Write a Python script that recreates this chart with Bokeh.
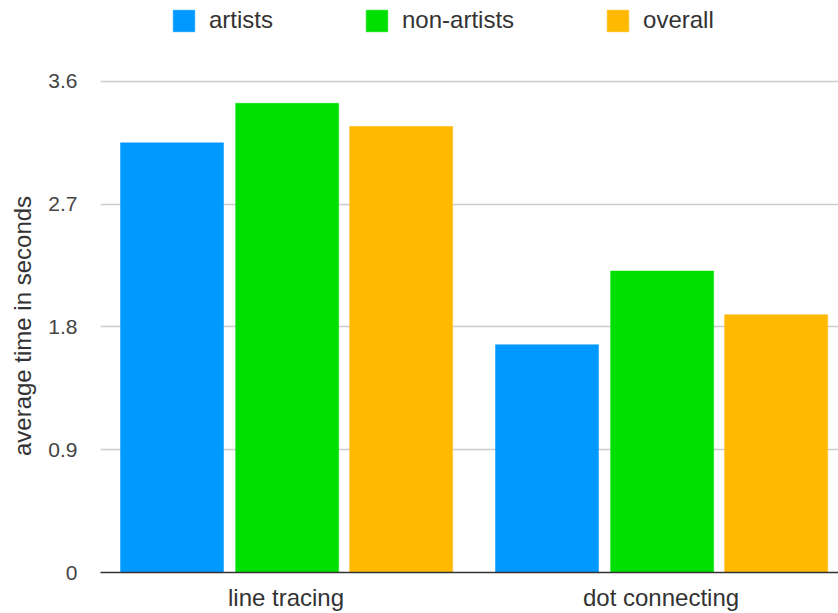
import numpy as np
from bokeh.plotting import figure
from bokeh.layouts import column
from bokeh.models import ColumnDataSource, FixedTicker, Range1d, Legend, LegendItem
from bokeh.transform import dodge
from bokeh.embed import file_html
from bokeh.resources import INLINE

categories = ["line tracing", "dot connecting"]
series = ["artists", "non-artists", "overall"]
artists = [3.15, 1.67]
non_artists = [3.44, 2.21]
overall = [3.27, 1.89]
y_ticks = [0, 0.9, 1.8, 2.7, 3.6]
colors = ["#0099FF", "#00E000", "#FFB900"]

FONT = "Liberation Sans"

xpos = np.arange(len(categories)) + 0.5
source = ColumnDataSource(dict(x=xpos, artists=artists, non_artists=non_artists, overall=overall))
cols = ["artists", "non_artists", "overall"]

# ---- legend strip (the bars drawn here lie outside its visible range; only the legend shows) ----
lg = figure(width=838, height=60, output_backend="svg", toolbar_location=None,
            x_range=Range1d(100, 101), y_range=Range1d(100, 101),
            min_border_left=0, min_border_right=0, min_border_top=0, min_border_bottom=0)
lg.axis.visible = False
lg.grid.visible = False
lg.outline_line_color = None
lg_renderers = []
for col, c in zip(cols, colors):
    r = lg.vbar(x="x", top=col, width=0.27, source=source,
                fill_color=c, line_color=c, line_alpha=0.5)
    lg_renderers.append(r)
legend = Legend(items=[LegendItem(label=s, renderers=[r]) for s, r in zip(series, lg_renderers)],
                orientation="horizontal", location=(70, 26))
legend.glyph_width = 27
legend.glyph_height = 27
legend.label_height = 22
legend.label_standoff = 12
legend.spacing = 90
legend.padding = 0
legend.margin = 0
legend.border_line_color = None
legend.background_fill_alpha = 0
legend.label_text_font = FONT
legend.label_text_font_size = "24px"
legend.label_text_color = "#333333"
lg.add_layout(legend, "center")

# ---- main chart ----
p = figure(width=838, height=553, output_backend="svg", toolbar_location=None,
           x_range=Range1d(0.0053, 1.9733), y_range=Range1d(0, 3.6146),
           min_border_left=100, min_border_right=0, min_border_top=19, min_border_bottom=40)
p.outline_line_color = None
p.background_fill_color = "white"

offsets = [-0.304, 0.003, 0.307]
for col, off, c in zip(cols, offsets, colors):
    p.vbar(x=dodge("x", off, range=p.x_range), top=col, width=0.2747, source=source,
           fill_color=c, line_color=c, line_alpha=0.5, line_width=1)

p.yaxis.ticker = FixedTicker(ticks=y_ticks)
p.yaxis.major_label_overrides = {0: "0", 0.9: "0.9", 1.8: "1.8", 2.7: "2.7", 3.6: "3.6"}
p.yaxis.axis_line_color = None
p.yaxis.major_tick_line_color = None
p.yaxis.minor_tick_line_color = None
p.yaxis.major_tick_out = 0
p.yaxis.major_label_standoff = 23
p.yaxis.major_label_text_font = FONT
p.yaxis.major_label_text_font_size = "21px"
p.yaxis.major_label_text_color = "#444444"
p.yaxis.axis_label = "average time in seconds"
p.yaxis.axis_label_text_font = FONT
p.yaxis.axis_label_text_font_size = "24px"
p.yaxis.axis_label_text_font_style = "normal"
p.yaxis.axis_label_text_color = "#333333"
p.yaxis.axis_label_standoff = 9

p.xaxis.ticker = FixedTicker(ticks=list(xpos))
p.xaxis.major_label_overrides = {float(x): c for x, c in zip(xpos, categories)}
p.xaxis.axis_line_color = "#333333"
p.xaxis.axis_line_width = 1.5
p.xaxis.major_tick_line_color = None
p.xaxis.minor_tick_line_color = None
p.xaxis.major_tick_out = 0
p.xaxis.major_label_standoff = 11
p.xaxis.major_label_text_font = FONT
p.xaxis.major_label_text_font_size = "24px"
p.xaxis.major_label_text_color = "#333333"

p.xgrid.grid_line_color = None
p.ygrid.ticker = FixedTicker(ticks=y_ticks)
p.ygrid.grid_line_color = "#CCCCCC"
p.ygrid.grid_line_width = 1.5

layout = column(lg, p, spacing=0)
open("out.html", "w").write(file_html(layout, INLINE))
